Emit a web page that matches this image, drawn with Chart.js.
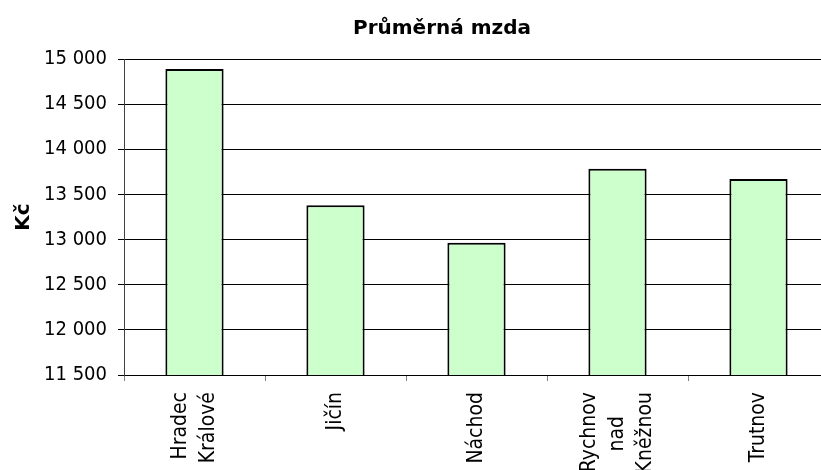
<!DOCTYPE html>
<html>
<head>
<meta charset="utf-8">
<script src="https://cdn.jsdelivr.net/npm/chart.js@4"></script>
<style>
  html, body { margin: 0; padding: 0; background: #fff; overflow: hidden; width: 821px; height: 470px; }
  canvas { display: block; }
</style>
</head>
<body>
<canvas id="c" width="884" height="470"></canvas>
<script>
// ---- data ----
const chartTitle = "Průměrná mzda";
const yAxisTitle = "Kč";
const categories = ["Hradec Králové", "Jičín", "Náchod", "Rychnov nad Kněžnou", "Trutnov"];
const categoryLines = [["Hradec", "Králové"], ["Jičín"], ["Náchod"], ["Rychnov", "nad    ", "Kněžnou"], ["Trutnov"]];
const wages = [14890, 13380, 12965, 13785, 13670];
const yMin = 11500, yMax = 15000, yStep = 500;

// spread label lines over 5 half-line slots so every label is centred on its tick
function slotLines(lines) {
  const slots = ["", "", "", "", ""];
  const start = 2 - (lines.length - 1);
  lines.forEach((l, i) => { slots[start + 2 * i] = l; });
  return slots;
}
function fmt(v) { return String(v).replace(/\B(?=(\d{3})+(?!\d))/g, " "); }

const FONT = "'DejaVu Sans Condensed', 'DejaVu Sans', sans-serif";
Chart.defaults.color = "#000";

new Chart(document.getElementById("c"), {
  type: "bar",
  data: {
    labels: categories,
    datasets: [{
      label: chartTitle,
      data: wages,
      backgroundColor: "#CCFFCC",
      borderColor: "#000",
      borderWidth: 2,
      barPercentage: 0.413,
      categoryPercentage: 1.0
    }]
  },
  options: {
    responsive: false,
    animation: false,
    layout: { padding: 0 },
    plugins: {
      legend: { display: false },
      tooltip: { enabled: false },
      title: {
        display: true,
        text: chartTitle,
        color: "#000",
        font: { family: "'DejaVu Sans', sans-serif", size: 20, weight: "bold", lineHeight: 1.2 },
        padding: { top: 17, bottom: 18 }
      }
    },
    scales: {
      x: {
        grid: { display: true, drawOnChartArea: false, drawTicks: true, tickLength: 6, color: "#808080", offset: true },
        border: { display: true, color: "#000", width: 1 },
        ticks: {
          minRotation: 90, maxRotation: 90, autoSkip: false,
          padding: 11,
          labelOffset: -28,
          font: { family: FONT, size: 21, lineHeight: "14px" },
          callback: (v, i) => slotLines(categoryLines[i])
        },
        afterFit: (s) => { s.height = 95; }
      },
      y: {
        min: yMin, max: yMax,
        grid: { color: "#000", lineWidth: 1, tickLength: 6 },
        border: { display: true, color: "#404040", width: 1 },
        ticks: {
          stepSize: yStep, padding: 11,
          font: { family: FONT, size: 20 },
          callback: (v) => fmt(v)
        },
        title: {
          display: true, text: yAxisTitle, color: "#000",
          font: { family: "'DejaVu Sans', sans-serif", size: 20, weight: "bold", lineHeight: 1.2 },
          padding: { top: 12, bottom: 0 }
        },
        afterFit: (s) => { s.width = 124; }
      },
      y2: {
        position: "right",
        display: true,
        grid: { display: false },
        border: { display: false },
        ticks: { display: false },
        afterFit: (s) => { s.width = 55; }
      }
    }
  }
});
</script>
</body>
</html>
